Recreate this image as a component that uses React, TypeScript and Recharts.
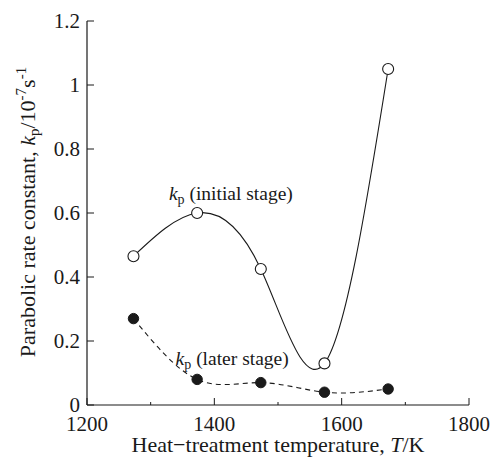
import React from 'react';
import {
  LineChart,
  Line,
  XAxis,
  YAxis,
  ReferenceDot,
} from 'recharts';

// heat-treatment temperature (K)
const temperatures = [1273, 1373, 1473, 1573, 1673];
// parabolic rate constant kp, 10^-7 s^-1
const initialStage = [0.465, 0.6, 0.425, 0.13, 1.05];
const laterStage = [0.27, 0.08, 0.07, 0.04, 0.05];

const xMajorTicks = [1200, 1400, 1600, 1800];
const xMinorTicks = [1300, 1500, 1700];
const yTicks = [0, 0.2, 0.4, 0.6, 0.8, 1, 1.2];

const rows = temperatures.map((T, i) => ({
  T,
  initial: initialStage[i],
  later: laterStage[i],
}));

const INK = '#1a1a1a';
const FONT = "'Liberation Serif', 'Times New Roman', Times, 'DejaVu Serif', serif";
const MAJOR = 7;
const MINOR = 3;

const xTicksAll = [...xMajorTicks, ...xMinorTicks].sort((a, b) => a - b);

const txt = { fontFamily: FONT, fill: INK };

// bottom ticks: marks drawn inward, labels only on majors
const BottomTick = (props: any) => {
  const { x, y, payload } = props;
  const major = xMajorTicks.includes(payload.value);
  return (
    <g>
      <line x1={x} y1={y} x2={x} y2={y - (major ? MAJOR : MINOR)} stroke={INK} strokeWidth={1} />
      {major && (
        <text x={x} y={y + 26} textAnchor="middle" fontSize={21} style={txt}>
          {payload.value}
        </text>
      )}
    </g>
  );
};

const TopTick = (props: any) => {
  const { x, y, payload } = props;
  const major = xMajorTicks.includes(payload.value);
  return <line x1={x} y1={y} x2={x} y2={y + (major ? MAJOR : MINOR)} stroke={INK} strokeWidth={1} />;
};

const LeftTick = (props: any) => {
  const { x, y, payload } = props;
  return (
    <g>
      <line x1={x} y1={y} x2={x + MAJOR} y2={y} stroke={INK} strokeWidth={1} />
      <text x={x - 7} y={y + 7} textAnchor="end" fontSize={21} style={txt}>
        {String(payload.value)}
      </text>
    </g>
  );
};

const RightTick = (props: any) => {
  const { x, y } = props;
  return <line x1={x} y1={y} x2={x - MAJOR} y2={y} stroke={INK} strokeWidth={1} />;
};

const KpLabel = (text: string) => (props: any) => {
  const vb = props.viewBox || {};
  const cx = vb.x + (vb.width || 0) / 2;
  const cy = vb.y + (vb.height || 0) / 2;
  return (
    <text x={cx} y={cy} textAnchor="middle" fontSize={19.5} style={txt}>
      <tspan fontStyle="italic">k</tspan>
      <tspan fontSize={14} dy={4}>p</tspan>
      <tspan dy={-4}>{' ' + text}</tspan>
    </text>
  );
};

const XTitle = (props: any) => {
  const vb = props.viewBox || { x: 87, y: 405, width: 382, height: 58 };
  return (
    <text x={vb.x + vb.width / 2} y={vb.y + 47} textAnchor="middle" fontSize={22} style={txt}>
      Heat−treatment temperature, <tspan fontStyle="italic">T</tspan>/K
    </text>
  );
};

const YTitle = () => (
  <text transform="translate(35, 212) rotate(-90)" textAnchor="middle" fontSize={22} style={txt}>
    Parabolic rate constant, <tspan fontStyle="italic">k</tspan>
    <tspan fontSize={15} dy={4}>p</tspan>
    <tspan dy={-4}>/10</tspan>
    <tspan fontSize={15} dy={-9}>-7</tspan>
    <tspan dy={9}>s</tspan>
    <tspan fontSize={15} dy={-9}>-1</tspan>
  </text>
);

export default function App() {
  return (
    <div
      style={{
        position: 'absolute',
        left: 0,
        top: 0,
        width: 492,
        height: 463,
        background: '#fff',
        fontFamily: FONT,
      }}
    >
      <LineChart
        width={492}
        height={463}
        data={rows}
        margin={{ top: 21, right: 23, bottom: 0, left: 0 }}
      >
        <XAxis
          dataKey="T"
          type="number"
          domain={[1200, 1800]}
          allowDataOverflow
          ticks={xTicksAll}
          interval={0}
          tickSize={0}
          tickMargin={0}
          tickLine={false}
          tick={BottomTick}
          axisLine={{ stroke: INK, strokeWidth: 1.2 }}
          height={58}
          label={<XTitle />}
        />
        <XAxis
          xAxisId="top"
          orientation="top"
          dataKey="T"
          type="number"
          domain={[1200, 1800]}
          allowDataOverflow
          ticks={xTicksAll}
          interval={0}
          tickSize={0}
          tickMargin={0}
          tickLine={false}
          tick={TopTick}
          axisLine={{ stroke: INK, strokeWidth: 1.2 }}
          height={0}
        />
        <YAxis
          type="number"
          domain={[0, 1.2]}
          allowDataOverflow
          ticks={yTicks}
          interval={0}
          tickSize={0}
          tickMargin={0}
          tickLine={false}
          tick={LeftTick}
          axisLine={{ stroke: INK, strokeWidth: 1.2 }}
          width={87}
          label={<YTitle />}
        />
        <YAxis
          yAxisId="right"
          orientation="right"
          type="number"
          domain={[0, 1.2]}
          allowDataOverflow
          ticks={yTicks.slice(1, -1)}
          interval={0}
          tickSize={0}
          tickMargin={0}
          tickLine={false}
          tick={RightTick}
          axisLine={{ stroke: INK, strokeWidth: 1.2 }}
          width={0}
        />
        <Line
          type="natural"
          dataKey="initial"
          stroke={INK}
          strokeWidth={1.1}
          dot={{ r: 5.5, fill: '#fff', stroke: INK, strokeWidth: 1.1 }}
          isAnimationActive={false}
        />
        <Line
          type="natural"
          dataKey="later"
          stroke={INK}
          strokeWidth={1.1}
          strokeDasharray="5 4"
          dot={{ r: 5.2, fill: INK, stroke: INK, strokeWidth: 1, strokeDasharray: 'none' }}
          isAnimationActive={false}
        />
        <ReferenceDot x={1426} y={0.64} r={0} fill="none" stroke="none" label={KpLabel('(initial stage)')} />
        <ReferenceDot x={1428} y={0.125} r={0} fill="none" stroke="none" label={KpLabel('(later stage)')} />
      </LineChart>
    </div>
  );
}
